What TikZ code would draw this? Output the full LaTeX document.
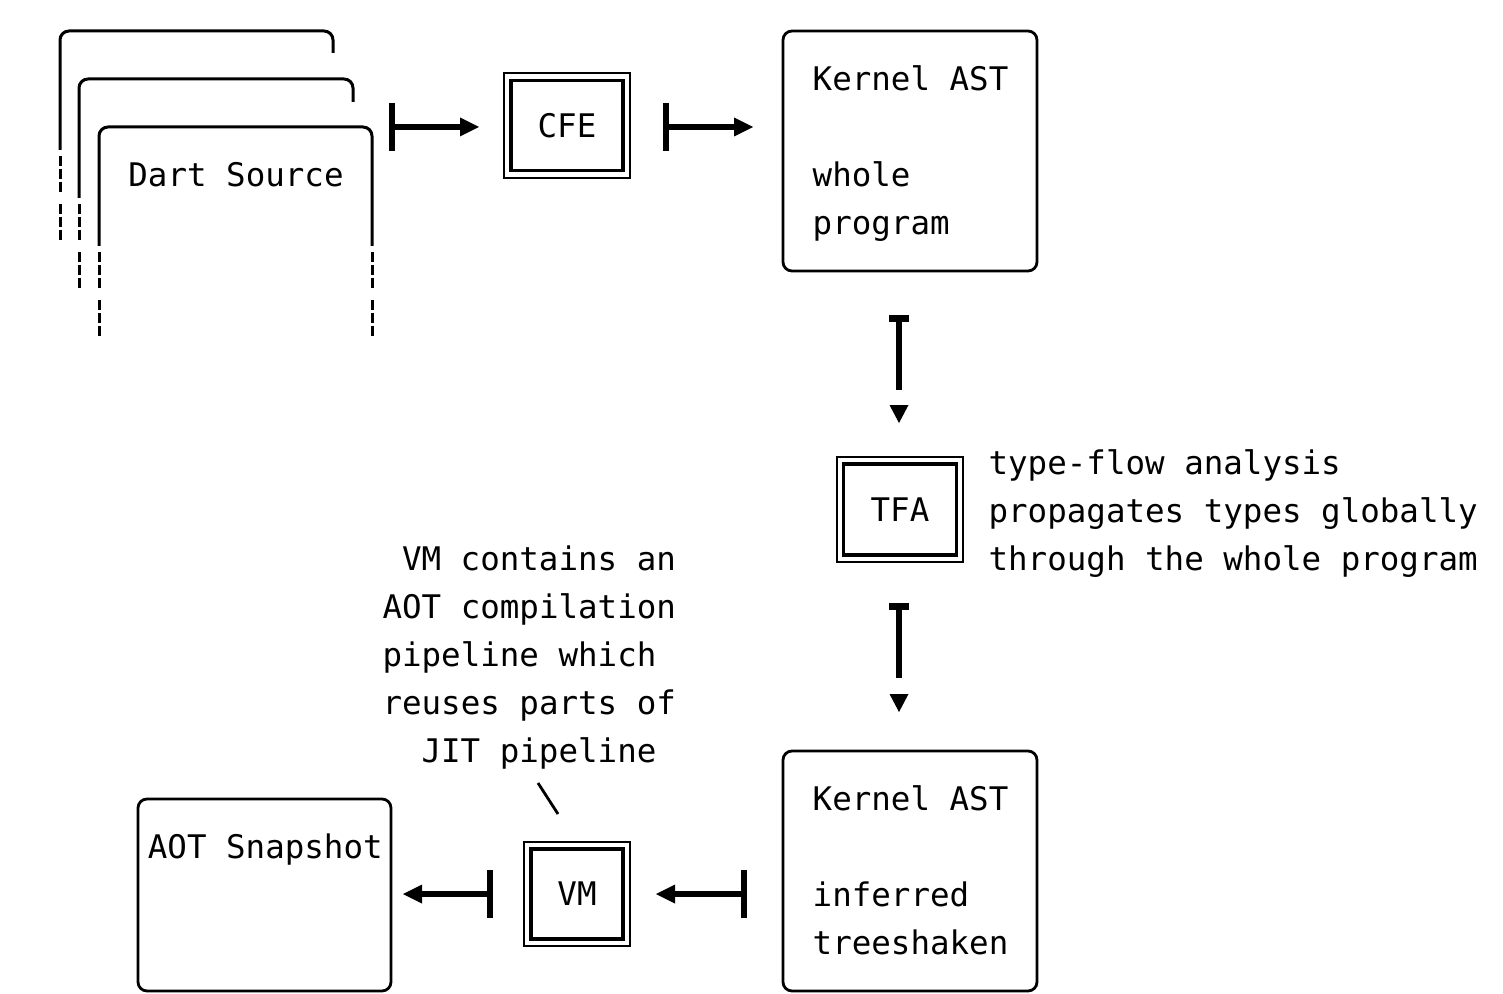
\documentclass[tikz,border=0pt]{standalone}
\usepackage{fontspec}
\usetikzlibrary{arrows.meta,calc}
\newfontfamily\dmono{DejaVu Sans Mono}
\begin{document}
\begin{tikzpicture}[x=0.5pt,y=-0.5pt,
  mono/.style={font=\dmono\fontsize{16.25pt}{24pt}\selectfont},
  txt/.style={mono, anchor=base west, inner sep=0pt, outer sep=0pt},
  rbox/.style={draw, line width=1.4pt, rounded corners=4.5pt, inner sep=0pt, outer sep=0pt},
  obox/.style={mono, draw, line width=1.3pt, inner sep=0pt, outer sep=0pt},
  ibox/.style={line width=1.7pt},
  stk/.style={line width=1.5pt, rounded corners=4.5pt},
  stkd/.style={line width=1.5pt, dash pattern=on 5.25pt off 1.25pt on 5.25pt off 1.25pt on 5.25pt off 5.75pt},
  harrow/.style={line width=3pt, {Bar[width=24pt,line width=3pt]}-{Triangle[length=9.5pt,width=9.5pt,line width=0pt]}},
  vshaft/.style={line width=3pt, {Bar[width=10pt,line width=3.5pt]}-},
  slash/.style={line width=1.4pt}
]
\useasboundingbox (0,0) rectangle (1503,994);

% ---- Dart source stack ----
\node[inner sep=0pt, minimum width=136.5pt, minimum height=105pt] (src) at (235.5,232) {};
\draw[stk] (60,150) -- (60,31) -- (333,31) -- (333,53);
\draw[stkd] (60,156) -- (60,241);
\draw[stk] (79,198) -- (79,79) -- (353,79) -- (353,102);
\draw[stkd] (79,204) -- (79,289);
\draw[stk] (99,246) -- (99,127) -- (372,127) -- (372,246);
\draw[stkd] (99,252) -- (99,337);
\draw[stkd] (372,252) -- (372,337);
\node[txt] (srct) at (128.4,186.5) {Dart Source};

% ---- CFE ----
\node[obox, minimum width=63pt, minimum height=52.5pt] (cfe) at (567,125.5) {CFE};
\draw[ibox] ($(cfe.north west)+(7,7.5)$) rectangle ($(cfe.south east)+(-7,-7.5)$);

% ---- Kernel AST (whole program) ----
\node[rbox, minimum width=127pt, minimum height=120pt] (k1) at (910,151) {};
\node[txt] (k1a) at (812.7,90.5) {Kernel AST};
\node[txt] (k1b) at (812.7,186.5) {whole};
\node[txt] (k1c) at (812.7,234.5) {program};

% ---- TFA ----
\node[obox, minimum width=63pt, minimum height=52.5pt] (tfa) at (900,509.5) {TFA};
\draw[ibox] ($(tfa.north west)+(6.5,7)$) rectangle ($(tfa.south east)+(-6.5,-7)$);
\node[txt] (t1) at (988.6,474.5) {type-flow analysis};
\node[txt] (t2) at (988.6,522.5) {propagates types globally};
\node[txt] (t3) at (988.6,570.5) {through the whole program};

% ---- Kernel AST (inferred treeshaken) ----
\node[rbox, minimum width=127pt, minimum height=120pt] (k2) at (910,871) {};
\node[txt] (k2a) at (812.7,810.5) {Kernel AST};
\node[txt] (k2b) at (812.7,906.5) {inferred};
\node[txt] (k2c) at (812.7,954.5) {treeshaken};

% ---- VM ----
\node[obox, minimum width=53pt, minimum height=52pt] (vm) at (577,894) {VM};
\draw[ibox] ($(vm.north west)+(7,7)$) rectangle ($(vm.south east)+(-7,-7)$);
\node[txt] (v1) at (402,570.5) {VM contains an};
\node[txt] (v2) at (382.5,618.5) {AOT compilation};
\node[txt] (v3) at (382.5,666.5) {pipeline which};
\node[txt] (v4) at (382.5,714.5) {reuses parts of};
\node[txt] (v5) at (421.6,762.5) {JIT pipeline};
\draw[slash] ($(vm.north)+(-39,-59)$) -- ($(vm.north)+(-19,-28)$);

% ---- AOT Snapshot ----
\node[rbox, minimum width=126.5pt, minimum height=96pt] (aot) at (264.5,895) {};
\node[txt] (aott) at (147.9,858.5) {AOT Snapshot};

% ---- connectors ----
\draw[harrow] ($(cfe.west)+(-115,1.5)$) -- ($(cfe.west)+(-25,1.5)$);
\draw[harrow] ($(cfe.east)+(32.7,1.5)$) -- ($(k1.west |- cfe.east)+(-30,1.5)$);

\draw[vshaft] ($(tfa.north)+(-1,-142)$) -- ($(tfa.north)+(-1,-67)$);
\fill ($(tfa.north)+(-1,-34)$) -- ($(tfa.north)+(-10.5,-52)$) -- ($(tfa.north)+(8.5,-52)$) -- cycle;

\draw[vshaft] ($(tfa.south)+(-1,41)$) -- ($(tfa.south)+(-1,116)$);
\fill ($(k2.north)+(-11,-39)$) -- ($(k2.north)+(-20.5,-57)$) -- ($(k2.north)+(-1.5,-57)$) -- cycle;

\draw[harrow] ($(k2.west |- vm.east)+(-36,0)$) -- ($(vm.east)+(26,0)$);
\draw[harrow] ($(vm.west)+(-31,0)$) -- ($(aot.east |- vm.west)+(12,0)$);
\end{tikzpicture}
\end{document}
